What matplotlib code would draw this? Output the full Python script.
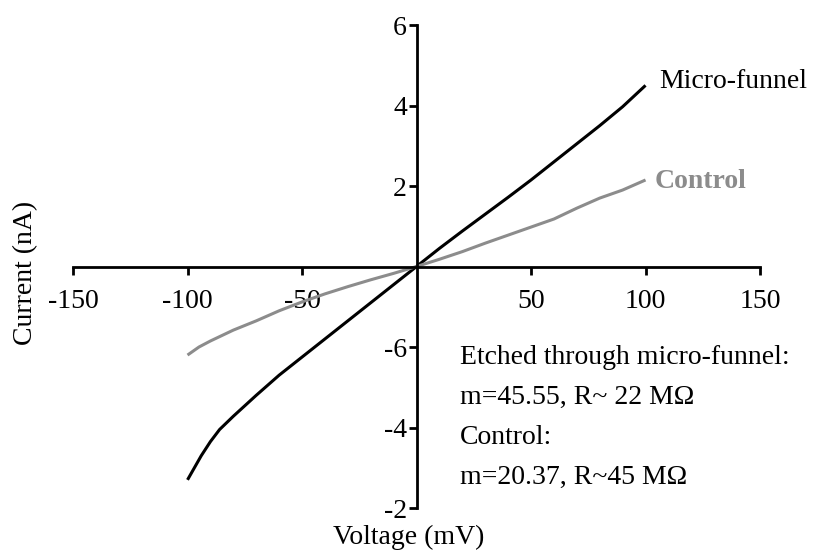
import matplotlib
matplotlib.use("Agg")
import matplotlib.pyplot as plt

plt.rcParams['font.family'] = ['Liberation Serif', 'DejaVu Serif']

# Data
mf_v = [-100, -97, -94, -90, -86, -80, -70, -60, -50, -40, -30, -20, -10, 0, 10, 20, 30, 40, 50, 60, 70, 80, 90, 100]
mf_i = [-5.3, -5.0, -4.7, -4.35, -4.05, -3.72, -3.2, -2.7, -2.25, -1.8, -1.35, -0.9, -0.45, 0.0,
        0.45, 0.88, 1.3, 1.72, 2.15, 2.6, 3.05, 3.5, 3.97, 4.5]
ct_v = [-100, -95, -90, -80, -70, -60, -50, -40, -30, -20, -10, 0, 10, 20, 30, 40, 50, 60, 70, 80, 90, 100]
ct_i = [-2.2, -2.0, -1.85, -1.58, -1.35, -1.1, -0.88, -0.68, -0.5, -0.33, -0.17, 0.0,
        0.18, 0.37, 0.58, 0.78, 0.98, 1.18, 1.45, 1.7, 1.9, 2.15]

xticks = [-150, -100, -50, 50, 100, 150]
xticklabels = ["-150", "-100", "-50", "50", "100", "150"]
yticks = [-6, -4, -2, 2, 4, 6]
yticklabels = ["-2", "-4", "-6", "2", "4", "6"]

FS = 20

fig = plt.figure(figsize=(8.14, 5.51), dpi=100)
ax = fig.add_axes([0.0897, 0.078, 0.844, 0.8766])

ax.plot(mf_v, mf_i, color='black', lw=2.2, solid_capstyle='butt', solid_joinstyle='round')
ax.plot(ct_v, ct_i, color='#8c8c8c', lw=2.2, solid_capstyle='butt', solid_joinstyle='round')

ax.set_xlim(-150, 150)
ax.set_ylim(-6, 6)

for s in ['top', 'right']:
    ax.spines[s].set_visible(False)
ax.spines['left'].set_position(('data', 0))
ax.spines['bottom'].set_position(('data', 0))
ax.spines['left'].set_linewidth(2)
ax.spines['bottom'].set_linewidth(2)

ax.set_xticks(xticks)
ax.set_xticklabels(xticklabels)
ax.set_yticks(yticks)
ax.set_yticklabels(yticklabels)
ax.tick_params(axis='both', direction='out', length=6, width=2, labelsize=FS)
ax.tick_params(axis='x', pad=10)
ax.tick_params(axis='y', pad=1)

fig.text(0.031, 0.505, "Current (nA)", rotation=90, ha='center', va='center', fontsize=FS)
fig.text(0.502, 0.025, "Voltage (mV)", ha='center', va='center', fontsize=FS)

ax.text(106, 4.6, "Micro-funnel", fontsize=FS, ha='left', va='center')
ax.text(104, 2.12, "Control", fontsize=FS, ha='left', va='center', color='#8c8c8c', fontweight='bold')

lines = ["Etched through micro-funnel:", "m=45.55, R~ 22 M\u03a9", "Control:", "m=20.37, R~45 M\u03a9"]
for k, t in enumerate(lines):
    ax.text(19, -2.25 - 1.0 * k, t, fontsize=FS, ha='left', va='center')

fig.savefig("out.png", dpi=100)
